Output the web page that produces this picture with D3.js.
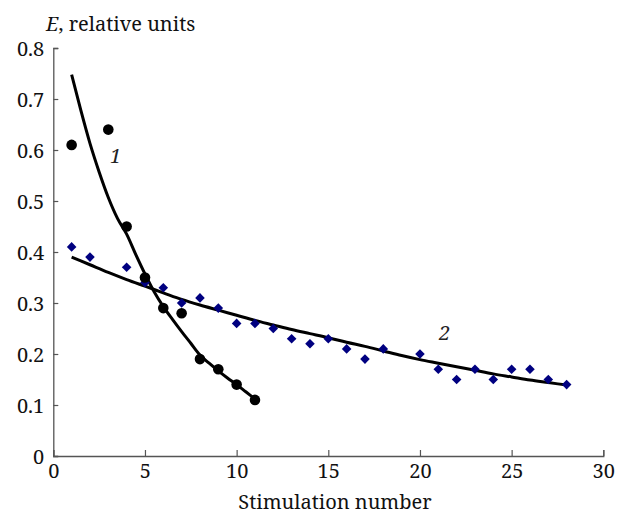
<!DOCTYPE html>
<html><head><meta charset="utf-8">
<script src="https://cdn.jsdelivr.net/npm/d3@7"></script>
<style>
html,body{margin:0;padding:0;background:#fff;}
</style></head>
<body>
<script>
// Series 1 (circles)
const s1x = [1, 3, 4, 5, 6, 7, 8, 9, 10, 11];
const s1y = [0.61, 0.64, 0.45, 0.35, 0.29, 0.28, 0.19, 0.17, 0.14, 0.11];
// Series 2 (diamonds)
const s2x = [1, 2, 4, 5, 6, 7, 8, 9, 10, 11, 12, 13, 14, 15, 16, 17, 18, 20, 21, 22, 23, 24, 25, 26, 27, 28];
const s2y = [0.41, 0.39, 0.37, 0.34, 0.33, 0.30, 0.31, 0.29, 0.26, 0.26, 0.25, 0.23, 0.22, 0.23, 0.21, 0.19, 0.21, 0.20, 0.17, 0.15, 0.17, 0.15, 0.17, 0.17, 0.15, 0.14];
// Fitted curve 1
const c1x = [1, 1.5, 2, 2.5, 3, 3.5, 4, 4.5, 5, 5.5, 6, 6.5, 7, 7.5, 8, 8.5, 9, 9.5, 10, 10.5, 11];
const c1y = [0.748, 0.678, 0.613, 0.557, 0.507, 0.466, 0.435, 0.395, 0.357, 0.322, 0.293, 0.268, 0.244, 0.221, 0.198, 0.182, 0.167, 0.153, 0.140, 0.126, 0.112];
// Fitted curve 2
const c2x = [1, 2, 3, 4, 5, 6, 7, 8, 9, 10, 11, 12, 13, 14, 15, 16, 17, 18, 19, 20, 21, 22, 23, 24, 25, 26, 27, 28];
const c2y = [0.39, 0.375, 0.36, 0.346, 0.333, 0.32, 0.307, 0.296, 0.286, 0.276, 0.266, 0.257, 0.248, 0.24, 0.232, 0.223, 0.215, 0.206, 0.197, 0.189, 0.182, 0.175, 0.168, 0.161, 0.155, 0.149, 0.144, 0.139];
const xTicks = [0, 5, 10, 15, 20, 25, 30];
const yTicks = [0, 0.1, 0.2, 0.3, 0.4, 0.5, 0.6, 0.7, 0.8];
const yTitle = "relative units";
const xTitle = "Stimulation number";
const curveLabels = ["1", "2"];

const FONT = "'Noto Serif', 'Liberation Serif', serif";
const W = 619, H = 523;
const svg = d3.select("body").append("svg").attr("width", W).attr("height", H);
const x = d3.scaleLinear().domain([0, 30]).range([53.3, 603.3]);
const y = d3.scaleLinear().domain([0, 0.8]).range([456, 48]);

const axisColor = "#555";
// x axis (ticks inward/up)
const gx = svg.append("g").attr("transform", `translate(0,${y(0)})`)
  .call(d3.axisBottom(x).tickValues(xTicks).tickSize(-6).tickPadding(0).tickFormat(d3.format("d")));
gx.attr("font-family", null).attr("font-size", null);
gx.select(".domain").attr("stroke", axisColor).attr("stroke-width", 1.3);
gx.selectAll(".tick line").attr("stroke", axisColor).attr("stroke-width", 1.2);
gx.selectAll(".tick text").attr("fill", "#111").attr("font-size", 20)
  .style("font-family", FONT).attr("y", 22).attr("dy", 0);

// y axis (ticks inward/right)
const gy = svg.append("g").attr("transform", `translate(${x(0)},0)`)
  .call(d3.axisLeft(y).tickValues(yTicks).tickSize(-5).tickPadding(0).tickFormat(d => d === 0 ? "0" : d3.format(".1f")(d)));
gy.attr("font-family", null).attr("font-size", null);
gy.select(".domain").attr("stroke", axisColor).attr("stroke-width", 1.3);
gy.selectAll(".tick text").attr("fill", "#111").attr("font-size", 20)
  .style("font-family", FONT).attr("x", -9).attr("dy", "0.35em");
gy.selectAll(".tick line").attr("stroke", axisColor).attr("stroke-width", 1.2);

// titles
const yt = svg.append("text").attr("x", 46).attr("y", 31).attr("font-size", 20).attr("fill", "#111")
  .style("font-family", FONT);
yt.append("tspan").attr("font-style", "italic").text("E");
yt.append("tspan").text(", " + yTitle);
svg.append("text").attr("x", 335).attr("y", 509).attr("text-anchor", "middle")
  .attr("font-size", 20).attr("fill", "#111").style("font-family", FONT).text(xTitle);

// curves
const line = d3.line().x(d => x(d[0])).y(d => y(d[1])).curve(d3.curveMonotoneX);
svg.append("path").datum(c2x.map((v, i) => [v, c2y[i]])).attr("d", line)
  .attr("fill", "none").attr("stroke", "#000").attr("stroke-width", 3);
svg.append("path").datum(c1x.map((v, i) => [v, c1y[i]])).attr("d", line)
  .attr("fill", "none").attr("stroke", "#000").attr("stroke-width", 3);

// diamonds
svg.append("g").selectAll("path").data(s2x.map((v, i) => [v, s2y[i]])).join("path")
  .attr("transform", d => `translate(${x(d[0])},${y(d[1])}) rotate(45)`)
  .attr("d", d3.symbol().type(d3.symbolSquare).size(46)())
  .attr("fill", "#000080");

// circles
svg.append("g").selectAll("circle").data(s1x.map((v, i) => [v, s1y[i]])).join("circle")
  .attr("cx", d => x(d[0])).attr("cy", d => y(d[1])).attr("r", 5.3).attr("fill", "#000");

// curve labels
svg.append("text").attr("x", 110).attr("y", 163).attr("font-size", 20).attr("font-style", "italic")
  .attr("fill", "#222").style("font-family", FONT).text(curveLabels[0]);
svg.append("text").attr("x", 439).attr("y", 340).attr("font-size", 20).attr("font-style", "italic")
  .attr("fill", "#222").style("font-family", FONT).text(curveLabels[1]);
</script>
</body></html>
